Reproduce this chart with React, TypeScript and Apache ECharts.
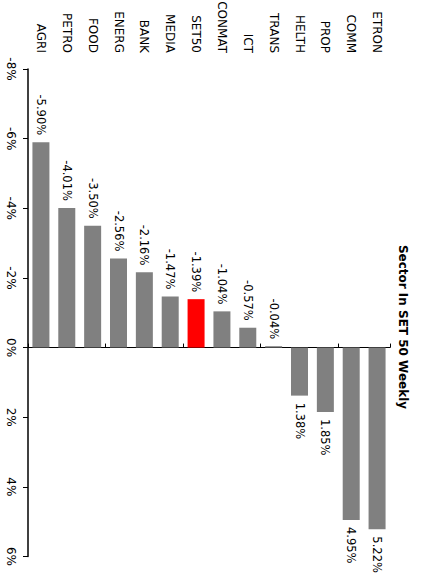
import React, { useEffect, useRef } from "react";
import * as echarts from "echarts";

const categories = ["AGRI", "PETRO", "FOOD", "ENERG", "BANK", "MEDIA", "SET50", "CONMAT", "ICT", "TRANS", "HELTH", "PROP", "COMM", "ETRON"];
const weeklyChange = [-5.9, -4.01, -3.5, -2.56, -2.16, -1.47, -1.39, -1.04, -0.57, -0.04, 1.38, 1.85, 4.95, 5.22];
const highlightCategory = "SET50";
const valueMin = -8;
const valueMax = 6;
const valueStep = 2;
const titleText = "Sector In SET 50 Weekly";

const FONT = "DejaVu Sans";

export default function App() {
  const ref = useRef<HTMLDivElement>(null);

  useEffect(() => {
    if (!ref.current) return;
    const chart = echarts.init(ref.current, null, { renderer: "svg" });
    const data = weeklyChange.map((v, i) => ({
      value: v,
      itemStyle: { color: categories[i] === highlightCategory ? "#ff0000" : "#808080" },
      label: {
        position: v < 0 ? "top" : "bottom",
        align: v < 0 ? "right" : "left",
      },
    }));
    chart.setOption({
      animation: false,
      grid: { left: 28, right: 33, top: 69, bottom: 16.5, containLabel: false, outerBoundsMode: "none" },
      xAxis: [
        {
          type: "category",
          data: categories,
          position: "top",
          axisLine: { show: false, onZero: false },
          axisTick: { show: false },
          axisLabel: {
            show: true,
            interval: 0,
            rotate: 90,
            hideOverlap: false,
            margin: 16,
            color: "#000",
            fontSize: 12,
            fontFamily: FONT,
          },
          splitLine: { show: false },
        },
        {
          type: "category",
          data: categories,
          position: "bottom",
          axisLine: { show: true, onZero: true, lineStyle: { color: "#000", width: 1 } },
          axisTick: { show: true, inside: true, length: 4, alignWithLabel: false, lineStyle: { color: "#000" } },
          axisLabel: { show: false },
          splitLine: { show: false },
        },
      ],
      yAxis: {
        type: "value",
        min: valueMin,
        max: valueMax,
        interval: valueStep,
        inverse: true,
        axisLine: { show: true, onZero: false, lineStyle: { color: "#000", width: 1.5 } },
        axisTick: { show: true, inside: false, length: 5, lineStyle: { color: "#000" } },
        axisLabel: {
          formatter: "{value}%",
          rotate: -90,
          margin: 11,
          color: "#000",
          fontSize: 12,
          fontFamily: FONT,
        },
        splitLine: { show: false },
      },
      series: [
        {
          type: "bar",
          xAxisIndex: 1,
          data,
          barWidth: 17,
          label: {
            show: true,
            rotate: -90,
            verticalAlign: "middle",
            distance: 7,
            color: "#000",
            fontSize: 11.5,
            fontFamily: FONT,
            formatter: (p: any) => `${Number(p.value).toFixed(2)}%`,
          },
        },
      ],
      graphic: [
        {
          type: "text",
          x: 403,
          y: 327,
          rotation: -Math.PI / 2,
          style: {
            text: titleText,
            align: "center",
            verticalAlign: "middle",
            fill: "#000",
            font: `bold 12px "${FONT}"`,
          },
        },
      ],
    });
    return () => chart.dispose();
  }, []);

  return (
    <div
      ref={ref}
      style={{ position: "fixed", left: 0, top: 0, width: 423, height: 573, background: "#fff" }}
    />
  );
}
